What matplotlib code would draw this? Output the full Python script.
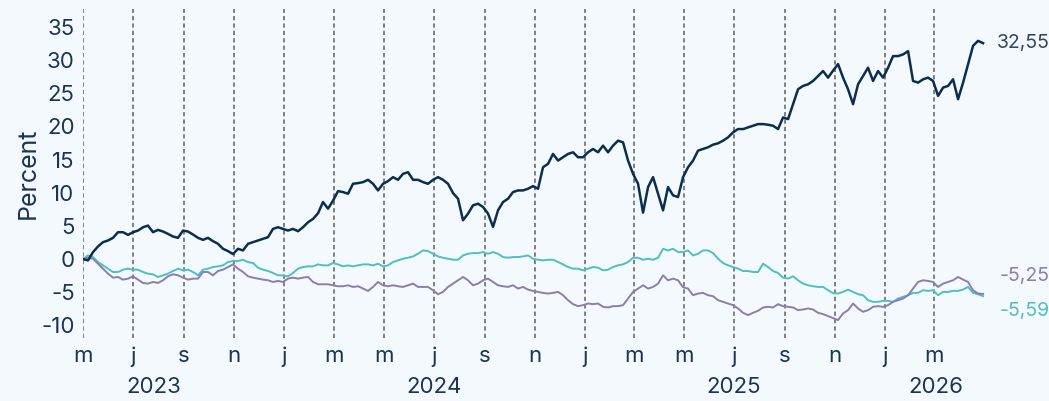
import matplotlib
matplotlib.use("Agg")
import matplotlib.pyplot as plt
import pandas as pd
import numpy as np

# ---- data (percent change since start) ----
start_date = "2023-05-01"
end_date = "2026-04-30"

dark_series = [
    0.0, -0.2, 1.05, 1.9, 2.55, 2.8, 3.2, 4.05, 4.05, 3.65, 4.05, 4.3, 4.8, 5.05, 4.05, 4.4,
    4.15, 3.8, 3.4, 3.2, 4.3, 4.15, 3.7, 3.2, 2.9, 3.2, 2.7, 2.3, 1.55, 1.2, 0.75,
    1.55, 1.3, 2.3, 2.55, 2.8, 3.05, 3.3, 4.55, 4.8, 4.55, 4.3, 4.55, 4.2, 4.8, 5.55, 6.05,
    6.9, 8.6, 7.6, 8.8, 10.25, 10.1, 9.85, 11.35, 11.45, 11.6, 11.95, 11.35, 10.35, 11.35,
    11.75, 12.35, 11.95, 12.85, 13.1, 11.95, 11.95, 11.6, 11.35, 11.95, 12.35, 11.95, 11.35,
    9.95, 9.1, 5.85, 6.85, 8.1, 8.35, 7.85, 6.85, 4.85, 7.35, 8.6, 9.1, 10.1, 10.35, 10.35,
    10.6, 11.0,
    10.6, 13.85, 14.35, 15.85, 14.85, 15.35, 15.85, 16.1, 15.35, 15.35, 16.1, 16.6, 16.1,
    17.1, 16.1, 17.1, 17.85, 17.6, 14.85, 12.85, 11.35, 7.0, 10.85, 12.35, 9.85, 7.35,
    10.85, 9.6, 9.35, 12.35,
    13.85, 14.85, 16.35, 16.6, 16.85, 17.25, 17.45, 17.85, 18.35, 19.1, 19.6, 19.6, 19.85,
    20.1, 20.35, 20.35, 20.25, 20.1, 19.6, 21.35, 21.1, 23.35, 25.6, 26.1, 26.35, 26.85,
    27.6, 28.35, 27.35, 28.4,
    29.4, 27.35, 25.6, 23.35, 26.35, 27.6, 28.85, 26.85, 28.35, 27.35, 28.85, 30.6, 30.6,
    30.85, 31.35, 26.85, 26.6, 27.1, 27.35, 26.85, 24.6, 25.85, 26.1, 27.1, 24.1, 26.6,
    29.4, 32.15, 32.9, 32.55,
]

teal_series = [
    0.0, 0.55, 0.3, -0.45, -0.95, -1.45, -1.95, -1.95, -1.6, -1.45, -1.6, -1.6, -1.95, -2.2,
    -2.3, -2.7, -2.45, -2.2, -1.8, -1.45, -1.7, -1.6, -1.95, -2.45, -1.6, -1.45, -1.2, -1.1,
    -0.95, -0.45, -0.3,
    -0.3, -0.1, -0.45, -0.6, -1.3, -1.6, -1.8, -2.1, -2.45, -2.45, -2.6, -2.1, -1.45, -1.2,
    -1.1, -1.1, -0.8, -0.95, -0.95, -0.6, -0.8, -1.1, -0.95, -1.1, -0.95, -0.8, -0.8, -0.95,
    -0.7, -1.1,
    -0.95, -0.45, -0.2, 0.05, 0.2, 0.4, 0.8, 1.3, 1.2, 0.8, 0.4, 0.2, 0.05, -0.1, -0.1, 0.55,
    0.8, 0.9, 0.9, 1.05, 0.8, 1.05, 0.8, 0.3, 0.2, 0.3, 0.3, 0.4, 0.55, 0.05,
    -0.1, -0.2, -0.1, -0.1, -0.45, -0.8, -1.2, -1.45, -1.45, -1.7, -1.45, -1.2, -1.3, -1.7,
    -1.6, -1.2, -0.95, -0.8, -0.45, 0.2, 0.2, -0.1, 0.05, -0.1, 0.2, 1.55, 1.3, 1.55, 1.05,
    1.05,
    1.3, 0.55, 0.8, 1.3, 1.3, 0.9, 0.05, -0.6, -0.95, -1.2, -1.45, -1.8, -1.8, -1.95, -1.95,
    -0.7, -1.2, -1.8, -2.1, -2.8, -2.95, -2.6, -3.2, -3.7, -3.95, -4.1, -4.2, -4.2, -4.7,
    -5.15,
    -5.2, -4.95, -4.6, -4.95, -5.3, -5.45, -6.2, -6.45, -6.45, -6.3, -6.3, -6.45, -5.95,
    -5.7, -5.45, -5.1, -5.1, -4.7, -4.8, -4.7, -5.45, -4.95, -4.95, -4.8, -4.8, -4.6, -4.2,
    -5.1, -5.3, -5.59,
]

purple_series = [
    0.0, 0.2, 0.05, -0.7, -1.45, -2.2, -2.8, -2.7, -3.1, -2.95, -2.6, -3.1, -3.6, -3.7,
    -3.45, -3.6, -3.2, -2.6, -2.3, -2.45, -2.8, -3.1, -2.95, -2.95, -1.95, -1.95, -2.45,
    -1.8, -1.6, -1.2, -0.8,
    -1.45, -1.95, -2.6, -2.8, -2.95, -3.1, -3.2, -3.45, -3.3, -3.45, -2.95, -2.8, -2.95,
    -2.8, -2.7, -3.45, -3.8, -3.8, -3.8, -3.95, -4.1, -4.1, -3.95, -4.2, -4.1, -4.45, -4.8,
    -4.2, -3.45, -3.95,
    -4.1, -3.95, -4.1, -4.2, -3.95, -3.7, -4.2, -4.2, -4.2, -4.7, -5.3, -4.95, -4.2, -3.7,
    -3.2, -2.7, -3.2, -3.95, -3.7, -3.2, -2.95, -3.45, -3.95, -4.1, -4.2, -3.95, -4.45,
    -4.2, -4.6, -4.8,
    -4.95, -5.1, -5.2, -5.1, -4.95, -5.45, -6.2, -6.8, -7.1, -6.95, -6.7, -6.8, -6.7, -7.2,
    -7.3, -7.1, -7.1, -6.95, -5.95, -4.95, -4.45, -3.95, -4.45, -4.2, -3.7, -2.45, -3.2,
    -2.95, -3.2, -4.25,
    -4.45, -5.45, -5.2, -5.1, -5.45, -5.6, -6.2, -6.45, -6.7, -6.95, -7.45, -8.1, -8.45,
    -8.1, -7.8, -7.3, -7.2, -7.3, -6.8, -7.1, -7.2, -7.3, -7.7, -7.6, -7.45, -7.6, -8.1,
    -8.3, -8.6, -8.9,
    -9.2, -8.2, -7.7, -6.7, -7.45, -7.95, -7.7, -7.2, -7.1, -7.2, -6.95, -6.45, -6.2, -5.95,
    -5.45, -4.45, -3.45, -3.2, -3.3, -3.45, -4.2, -3.7, -3.45, -3.2, -2.7, -3.1, -3.45,
    -4.7, -5.2, -5.25,
]

end_labels = ["32,55", "-5,25", "-5,59"]
month_labels = ["m", "j", "s", "n", "j", "m", "m", "j", "s", "n", "j", "m",
                "m", "j", "s", "n", "j", "m"]
year_labels = ["2023", "2024", "2025", "2026"]
year_label_dates = ["2023-07-26", "2024-07-01", "2025-07-01", "2026-03-03"]
y_ticks = [-10, -5, 0, 5, 10, 15, 20, 25, 30, 35]

# ---- style ----
BG = "#F4F9FD"
C_DARK = "#0B2E50"
C_TEAL = "#4DBFC5"
C_PURP = "#8B7DAE"
C_TEXT = "#1B3358"

plt.rcParams["font.family"] = ["Inter", "DejaVu Sans"]
plt.rcParams["axes.unicode_minus"] = False

dates = pd.date_range(start_date, end_date, periods=len(dark_series))

fig = plt.figure(figsize=(10.49, 4.01), dpi=100, facecolor=BG)
ax = fig.add_axes([83 / 1049, 1 - 338 / 401, (988 - 83) / 1049, (338 - 9) / 401])
ax.set_facecolor(BG)

ax.plot(dates, teal_series, color=C_TEAL, lw=1.4, zorder=3)
ax.plot(dates, purple_series, color=C_PURP, lw=1.4, zorder=3)
ax.plot(dates, dark_series, color=C_DARK, lw=1.8, zorder=4)

ax.set_ylim(-11.9, 37.7)
ax.set_xlim(pd.Timestamp(start_date), pd.Timestamp("2026-05-06"))

tick_dates = pd.date_range("2023-05-01", periods=len(month_labels), freq="2MS")
ax.set_xticks(tick_dates)
ax.set_xticklabels(month_labels)
ax.set_yticks(y_ticks)
ax.set_yticklabels([str(v) for v in y_ticks])

for s in ax.spines.values():
    s.set_visible(False)
ax.tick_params(axis="both", length=0, labelsize=16, colors=C_TEXT)
ax.tick_params(axis="y", pad=6)
ax.tick_params(axis="x", pad=6)

ax.grid(axis="x", color="#808080", linestyle=(0, (2.2, 1.6)), linewidth=1.4, zorder=1)
ax.grid(axis="y", visible=False)

ax.set_ylabel("Percent", fontsize=18, color=C_TEXT, labelpad=1)

trans = matplotlib.transforms.blended_transform_factory(ax.transData, fig.transFigure)
for lab, d in zip(year_labels, year_label_dates):
    ax.text(pd.Timestamp(d), 1 - 387 / 401, lab, transform=trans, ha="center", va="center",
            fontsize=16, color=C_TEXT)

last = dates[-1]
ax.annotate(end_labels[0], xy=(last, dark_series[-1]), xytext=(14, 0), textcoords="offset pixels",
            ha="left", va="center", fontsize=14, color="#33455E",
            annotation_clip=False)
ax.annotate(end_labels[1], xy=(last, purple_series[-1]), xytext=(17, 18), textcoords="offset pixels",
            ha="left", va="center", fontsize=14, color=C_PURP,
            annotation_clip=False)
ax.annotate(end_labels[2], xy=(last, teal_series[-1]), xytext=(17, -15), textcoords="offset pixels",
            ha="left", va="center", fontsize=14, color=C_TEAL,
            annotation_clip=False)

fig.savefig("out.png", dpi=100, facecolor=BG)
